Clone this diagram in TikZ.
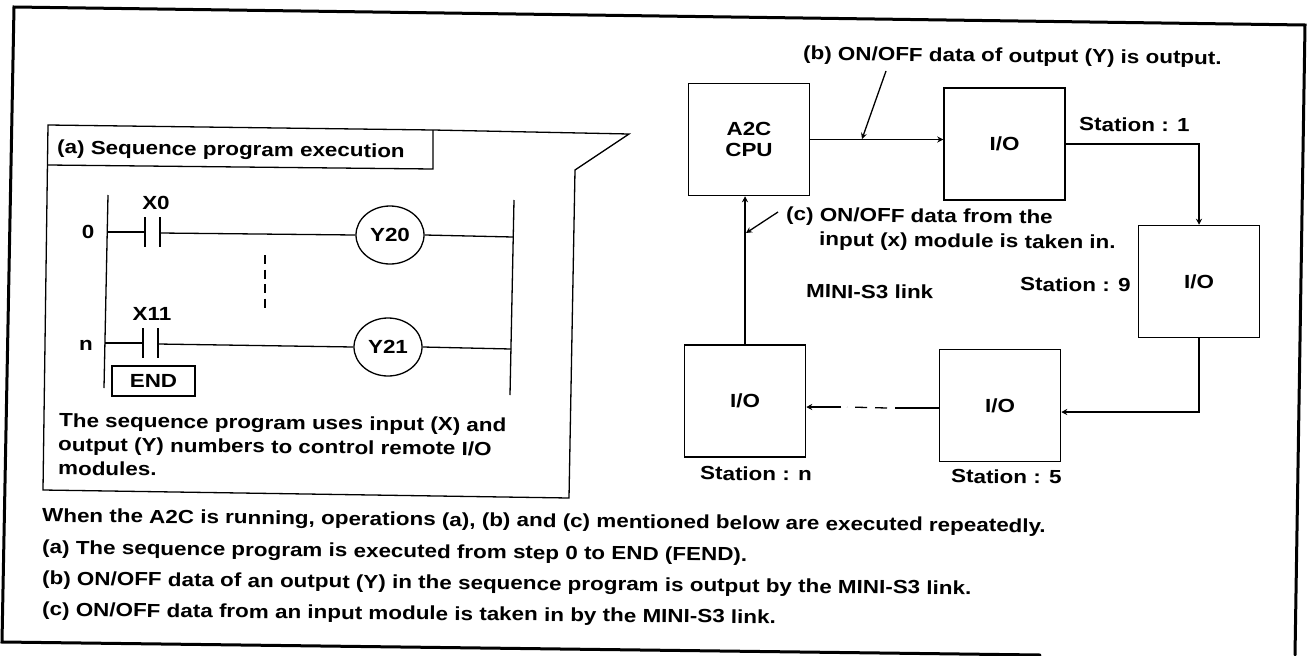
\documentclass[tikz,border=0pt]{standalone}
\usepackage{fontspec}
\setmainfont{Liberation Sans}[BoldFont={Liberation Sans Bold},FakeStretch=1.18]
\usetikzlibrary{arrows.meta,shapes.geometric}
\tikzset{
  x=1pt,y=-1pt,
  txt/.style={font=\fontsize{19}{21}\selectfont\bfseries,inner sep=0pt,text=black},
  ltxt/.style={txt,anchor=west},
  long/.style={ltxt,rotate=-0.6},
  thin line/.style={draw=black,line width=1.3pt},
  frame line/.style={draw=black,line width=3pt,line cap=round,line join=miter},
  iobox/.style={draw=black,line width=1.5pt,minimum width=121pt,minimum height=112pt,inner sep=0pt,txt},
  coil/.style={ellipse,draw=black,line width=1.3pt,minimum width=68pt,minimum height=58pt,inner sep=0pt,txt},
  flow/.style={thin line,-{Stealth[length=6pt,width=6pt]}}
}
\begin{document}
\begin{tikzpicture}
\useasboundingbox (0,0) rectangle (1312,656);
% outer frame
\draw[frame line] (1040,655) -- (2,642) -- (14,7) -- (1305,25) -- (1297,530) -- (1295,655);
% callout panel
\draw[thin line] (433,130) -- (629,134) -- (575,170) -- (569,498) -- (43,490) -- (48,125) -- (433,130);
\draw[thin line] (48,165) -- (433,169) -- (433,130);
\node[long] (title) at (57,149) {(a) Sequence program execution};
% ladder
\coordinate (railLT) at (108,195); \coordinate (railLB) at (104,388);
\coordinate (railRT) at (514,200); \coordinate (railRB) at (510,395);
\draw[thin line] (railLT) -- (railLB);
\draw[thin line] (railRT) -- (railRB);
\node[coil] (y20) at (390,235) {Y20};
\node[coil] (y21) at (388,347) {Y21};
\coordinate (c0a) at (145,232); \coordinate (c0b) at (160,233);
\coordinate (cna) at (143,343); \coordinate (cnb) at (158,344);
\coordinate (r0L) at (107,232); \coordinate (r0R) at (513,237);
\coordinate (rnL) at (105,343); \coordinate (rnR) at (511,349);
\draw[thin line] (r0L) -- (c0a);
\draw[thin line] (c0b) -- (y20.west);
\draw[thin line] (y20.east) -- (r0R);
\draw[thin line] (rnL) -- (cna);
\draw[thin line] (cnb) -- (y21.west);
\draw[thin line] (y21.east) -- (rnR);
\draw[thin line] (145,217) -- (145,247);
\draw[thin line] (160,217) -- (160,247);
\draw[thin line] (143,328) -- (143,358);
\draw[thin line] (158,328) -- (158,358);
\draw[thin line,dash pattern=on 9pt off 5.5pt] (265,255) -- (265,308);
\node[txt] (x0) at (156,203) {X0};
\node[txt] (x11) at (152,314) {X11};
\node[txt] (n0) at (88,232) {0};
\node[txt] (nn) at (86,345) {n};
\node[txt,draw=black,line width=1.3pt,minimum width=83pt,minimum height=30pt] (endbox) at (153.5,381) {END};
\node[long] (p1) at (59,422) {The sequence program uses input (X) and};
\node[long] (p2) at (58,446) {output (Y) numbers to control remote I/O};
\node[long] (p3) at (58,468) {modules.};
% network
\node[iobox,align=center] (cpu) at (749,139.5) {A2C\\CPU};
\node[iobox] (io1) at (1004.5,144) {I/O};
\node[iobox] (io9) at (1199,281.5) {I/O};
\node[iobox] (io5) at (1000,405.5) {I/O};
\node[iobox] (ion) at (745,401) {I/O};
\node[long] (sb) at (803,55) {(b) ON/OFF data of output (Y) is output.};
\node[long] (sc1) at (786,216) {(c) ON/OFF data from the};
\node[long] (sc2) at (819,241) {input (x) module is taken in.};
\node[long] (mini) at (806,291) {MINI-S3 link};
\node[long] (s1) at (1079,124) {Station : 1};
\node[long] (s9) at (1020,284) {Station : 9};
\node[long] (s5) at (951,476) {Station : 5};
\node[long] (sn) at (700,473) {Station : n};
\draw[flow] (cpu.east) -- (cpu.east -| io1.west);
\draw[flow] (io1.east) -| (io9.north);
\draw[flow] (io9.south) |- ([yshift=-6.5pt]io5.east);
\coordinate (ds1) at (895,408);
\coordinate (ds2) at (841,407);
\coordinate (ds3) at (887,408);
\coordinate (ds4) at (847,407);
\draw[thin line] ([yshift=-2.5pt]io5.west) -- (ds1);
\draw[thin line,dash pattern=on 12pt off 8pt] (ds3) -- (ds4);
\draw[flow] (ds2) -- (ds2 -| ion.east);
\draw[flow] (ion.north) -- (ion.north |- cpu.south);
\coordinate (bt) at (886,71);
\coordinate (bf) at (862,139);
\draw[flow] (bt) -- (bf);
\coordinate (ct) at (778,212);
\coordinate (cf) at (746,233);
\draw[flow] (ct) -- (cf);
% footer
\node[long] (f1) at (42,517) {When the A2C is running, operations (a), (b) and (c) mentioned below are executed repeatedly.};
\node[long] (f2) at (42,549) {(a) The sequence program is executed from step 0 to END (FEND).};
\node[long] (f3) at (42,580) {(b) ON/OFF data of an output (Y) in the sequence program is output by the MINI-S3 link.};
\node[long] (f4) at (42,611) {(c) ON/OFF data from an input module is taken in by the MINI-S3 link.};
\end{tikzpicture}
\end{document}
